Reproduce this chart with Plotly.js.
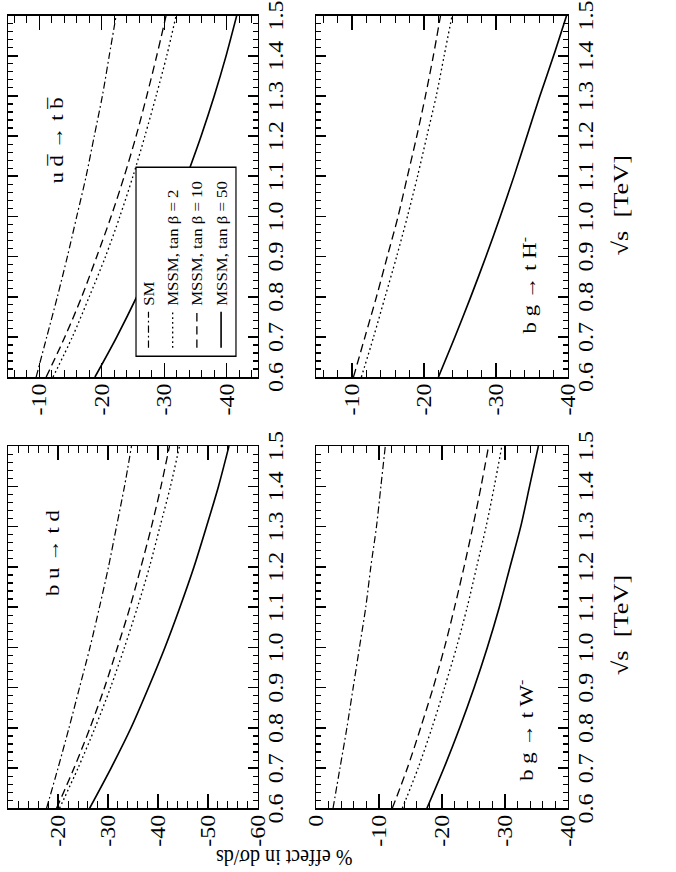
<!DOCTYPE html>
<html>
<head>
<meta charset="utf-8">
<script src="https://cdn.plot.ly/plotly-3.0.1.min.js"></script>
<style>
    html, body { margin: 0; padding: 0; background: #fff; width: 676px; height: 872px; overflow: hidden; }
    /* the figure is drawn landscape, then turned a quarter turn like the printed page */
    #wrap { position: absolute; left: 0; top: 0; width: 727px; height: 676px;
            transform-origin: 0 0; transform: translate(0px, 872px) rotate(-90deg) scaleX(1.1995); }
</style>
</head>
<body>
<div id="wrap"><div id="chart"></div></div>
<script>
    const sqrtS = [0.6, 0.7, 0.8, 0.9, 1.0, 1.1, 1.2, 1.3, 1.4, 1.5];

    // b u -> t d
    const buSM    = [-17.7, -20.0, -22.2, -24.3, -26.4, -28.3, -30.1, -31.7, -33.3, -34.7];
    const buTan2  = [-20.3, -24.0, -27.4, -30.5, -33.3, -35.9, -38.3, -40.4, -42.5, -44.3];
    const buTan10 = [-19.7, -23.2, -26.4, -29.3, -31.9, -34.4, -36.6, -38.7, -40.6, -42.3];
    const buTan50 = [-26.3, -30.6, -34.6, -38.1, -41.4, -44.4, -47.2, -49.7, -52.1, -54.2];

    // u dbar -> t bbar
    const udSM    = [-9.5, -11.2, -12.9, -14.5, -16.0, -17.5, -18.8, -20.1, -21.2, -22.3];
    const udTan2  = [-12.2, -15.3, -18.0, -20.6, -22.9, -25.0, -26.9, -28.7, -30.4, -31.9];
    const udTan10 = [-11.1, -14.1, -16.8, -19.2, -21.5, -23.6, -25.5, -27.2, -28.8, -30.3];
    const udTan50 = [-18.9, -22.4, -25.6, -28.5, -31.2, -33.6, -35.9, -38.0, -39.9, -41.6];

    // b g -> t W-
    const bwSM    = [-2.7, -3.8, -4.9, -5.9, -6.9, -7.9, -8.7, -9.6, -10.3, -11.0];
    const bwTan2  = [-13.7, -16.2, -18.4, -20.4, -22.3, -24.0, -25.5, -27.0, -28.3, -29.5];
    const bwTan10 = [-12.1, -14.5, -16.6, -18.6, -20.4, -22.0, -23.5, -24.9, -26.2, -27.4];
    const bwTan50 = [-17.6, -20.3, -22.8, -25.1, -27.2, -29.1, -30.8, -32.5, -33.9, -35.3];

    // b g -> t H-  (no SM curve)
    const bhTan2  = [-11.3, -13.0, -14.6, -16.2, -17.7, -19.1, -20.4, -21.7, -22.8, -23.9];
    const bhTan10 = [-10.2, -11.8, -13.4, -14.9, -16.4, -17.7, -19.0, -20.2, -21.3, -22.3];
    const bhTan50 = [-22.0, -24.3, -26.5, -28.6, -30.6, -32.5, -34.3, -36.1, -38.0, -39.8];

    const seriesNames = ['SM', 'MSSM, tan β = 2', 'MSSM, tan β = 10', 'MSSM, tan β = 50'];
    const processLabels = ['b u → t d', 'u d\u0305 → t b\u0305', 'b g → t W<sup>-</sup>', 'b g → t H<sup>-</sup>'];

    const yTicksBU = [-10, -20, -30, -40, -50, -60];
    const yTicksUD = [-10, -20, -30, -40];
    const yTicksBW = [0, -10, -20, -30, -40];
    const yTicksBH = [-10, -20, -30, -40];

    const lineStyles = [
        {dash: '6px,2.5px,1.5px,2.5px', width: 1.2},
        {dash: '1.5px,2.5px', width: 1.3},
        {dash: '7px,4px', width: 1.3},
        {dash: 'solid', width: 1.6}
    ];

    function curve(y, k, xa, ya, legend) {
        return {
            x: sqrtS, y: y, xaxis: xa, yaxis: ya, type: 'scatter', mode: 'lines',
            line: {color: 'black', dash: lineStyles[k].dash, width: lineStyles[k].width, shape: 'spline', smoothing: 0.8},
            name: seriesNames[k], legendgroup: 'g' + k, showlegend: legend, hoverinfo: 'skip'
        };
    }

    const traces = [
        curve(buSM, 0, 'x', 'y', false), curve(buTan2, 1, 'x', 'y', false),
        curve(buTan10, 2, 'x', 'y', false), curve(buTan50, 3, 'x', 'y', false),
        curve(udSM, 0, 'x2', 'y2', true), curve(udTan2, 1, 'x2', 'y2', true),
        curve(udTan10, 2, 'x2', 'y2', true), curve(udTan50, 3, 'x2', 'y2', true),
        curve(bwSM, 0, 'x3', 'y3', false), curve(bwTan2, 1, 'x3', 'y3', false),
        curve(bwTan10, 2, 'x3', 'y3', false), curve(bwTan50, 3, 'x3', 'y3', false),
        curve(bhTan2, 1, 'x4', 'y4', false), curve(bhTan10, 2, 'x4', 'y4', false),
        curve(bhTan50, 3, 'x4', 'y4', false)
    ];

    function xAxis(domain, anchor) {
        return {
            domain: domain, anchor: anchor, range: [0.6, 1.5], tick0: 0.6, dtick: 0.1, tickformat: '.1f',
            ticks: 'inside', ticklen: 10, tickwidth: 1.3, tickcolor: 'black',
            showline: true, linecolor: 'black', linewidth: 1.3, mirror: 'allticks',
            showgrid: false, zeroline: false, tickfont: {size: 20},
            minor: {tickmode: 'linear', tick0: 0.6, dtick: 0.02, ticks: 'inside', ticklen: 5, tickwidth: 1, tickcolor: 'black', showgrid: false}
        };
    }

    function yAxis(domain, anchor, range, vals) {
        return {
            domain: domain, anchor: anchor, range: range,
            tickmode: 'array', tickvals: vals, ticktext: vals.map(v => String(v)),
            ticks: 'inside', ticklen: 12, tickwidth: 1.3, tickcolor: 'black',
            showline: true, linecolor: 'black', linewidth: 1.3, mirror: 'allticks',
            showgrid: false, zeroline: false, tickfont: {size: 20},
            minor: {tickmode: 'linear', tick0: 0, dtick: 2, ticks: 'inside', ticklen: 6, tickwidth: 1, tickcolor: 'black', showgrid: false}
        };
    }

    const colL = [0, 0.457], colR = [0.544, 1];
    const rowT = [0.5536, 1], rowB = [0, 0.45];

    function label(text, xa, ya, x, y) {
        return {text: text, xref: xa, yref: ya, x: x, y: y, showarrow: false, font: {size: 19}};
    }

    function paperText(text, x, y, size, angle) {
        return {text: text, xref: 'paper', yref: 'paper', x: x, y: y, xanchor: 'center', yanchor: 'middle',
                textangle: angle, showarrow: false, font: {size: size}};
    }

    const layout = {
        width: 727, height: 676,
        margin: {l: 53, r: 13, t: 8, b: 108},
        paper_bgcolor: 'white', plot_bgcolor: 'white',
        font: {family: '"Liberation Serif", "DejaVu Serif", serif', size: 19, color: 'black'},
        xaxis: xAxis(colL, 'y'), yaxis: yAxis(rowT, 'x', [-60, -10], yTicksBU),
        xaxis2: xAxis(colR, 'y2'), yaxis2: yAxis(rowT, 'x2', [-45, -5], yTicksUD),
        xaxis3: xAxis(colL, 'y3'), yaxis3: yAxis(rowB, 'x3', [-40, 0], yTicksBW),
        xaxis4: xAxis(colR, 'y4'), yaxis4: yAxis(rowB, 'x4', [-40, -5], yTicksBH),
        showlegend: true,
        legend: {x: 0.5734, xanchor: 'left', y: 0.777, yanchor: 'top', bgcolor: 'rgba(0,0,0,0)',
                 borderwidth: 0, font: {size: 14}, tracegroupgap: 3, traceorder: 'grouped'},
        shapes: [
            {type: 'rect', xref: 'paper', yref: 'paper', x0: 0.5703, x1: 0.8086, y0: 0.5929, y1: 0.7714,
             fillcolor: 'white', line: {color: 'black', width: 1.2}, layer: 'above'}
        ],
        annotations: [
            label(processLabels[0], 'x', 'y', 1.236, -18.8),
            label(processLabels[1], 'x2', 'y2', 1.189, -12.7),
            label(processLabels[2], 'x3', 'y3', 0.794, -33.2),
            label(processLabels[3], 'x4', 'y4', 0.829, -34.4),
            paperText('√s  [TeV]', 0.231, -0.093, 22, 0),
            paperText('√s  [TeV]', 0.761, -0.093, 22, 0),
            paperText('% effect in dσ/ds', -0.063, 0.507, 20, -90)
        ]
    };

    Plotly.newPlot('chart', traces, layout, {staticPlot: true, displayModeBar: false});
</script>
</body>
</html>
